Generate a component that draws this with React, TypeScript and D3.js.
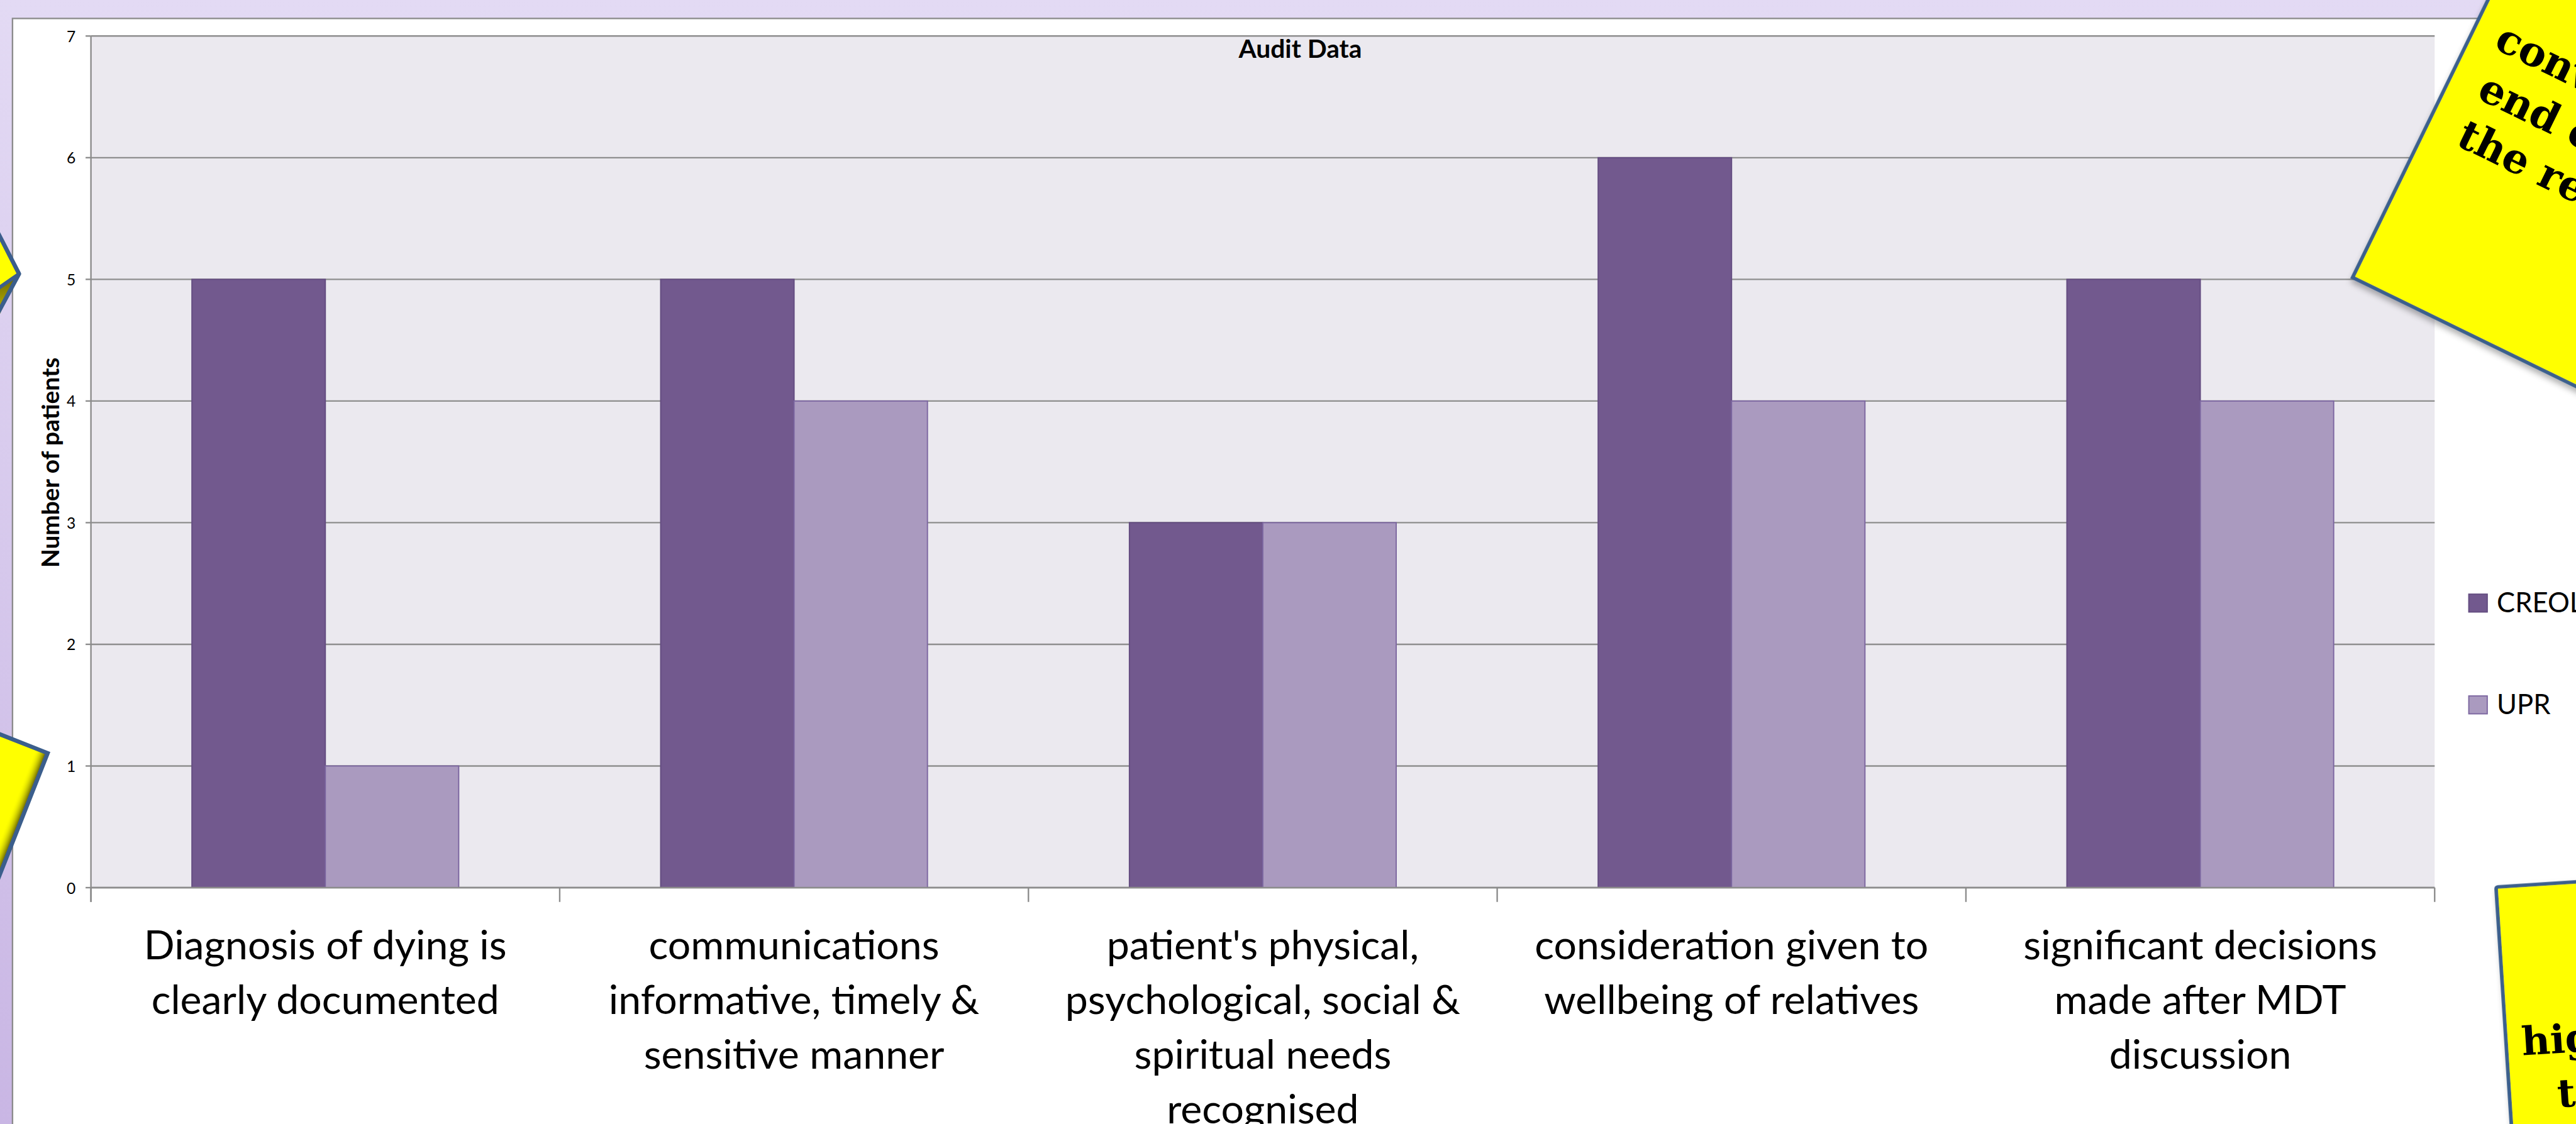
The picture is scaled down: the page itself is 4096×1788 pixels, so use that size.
import React, { useEffect } from "react";
import * as d3 from "d3";

// ---------- data ----------
const categoryLabels: string[][] = [
  ["Diagnosis of dying is", "clearly documented"],
  ["communications", "informative, timely &", "sensitive manner"],
  ["patient's physical,", "psychological, social &", "spiritual needs", "recognised"],
  ["consideration given to", "wellbeing of relatives"],
  ["significant decisions", "made after MDT", "discussion"],
];
const categories = categoryLabels.map((l) => l.join(" "));
const seriesNames = ["CREOL", "UPR"];
const creolValues = [5, 5, 3, 6, 5];
const uprValues = [1, 4, 3, 4, 4];
const yTicks = [0, 1, 2, 3, 4, 5, 6, 7];
const chartTitle = "Audit Data";
const yAxisTitle = "Number of patients";
const noteTopRightLines = ["conv", "end c", "the re"];
const noteBottomRightLines = ["hig", "t"];

const seriesColors = ["#72598E", "#AA9ABF"];
const seriesStrokes = ["#634c80", "#7c66a0"];

const W = 4325;
const H = 1888;
const plot = { left: 152.7, right: 4087.7, top: 60.5, bottom: 1491 };

const FONT = "Lato, 'Open Sans', 'DejaVu Sans', sans-serif";
const NOTE_FONT = "'DejaVu Serif', serif";

export default function App() {
  useEffect(() => {
    document.body.style.margin = "0";
  }, []);

  const x = d3
    .scaleBand<string>()
    .domain(categories)
    .range([plot.left, plot.right])
    .paddingInner(0)
    .paddingOuter(0);
  const xs = d3
    .scaleBand<string>()
    .domain(seriesNames)
    .range([0, x.bandwidth()])
    .paddingInner(0)
    .paddingOuter(0.757);
  const y = d3.scaleLinear().domain([0, 7]).range([plot.bottom, plot.top]);

  const seriesValues = [creolValues, uprValues];
  const boundaries = [...categories.map((c) => x(c) as number), plot.right];

  return (
    <svg
      width={4096}
      height={1788}
      viewBox={`0 0 ${W} ${H}`}
      preserveAspectRatio="none"
      style={{ position: "absolute", left: 0, top: 0, display: "block" }}
    >
      <defs>
        <linearGradient id="bg" x1="0" y1="0" x2="0" y2="1">
          <stop offset="0" stopColor="#e3daf4" />
          <stop offset="1" stopColor="#c9b6e4" />
        </linearGradient>
        <filter id="noteShadow" x="-30%" y="-30%" width="160%" height="160%">
          <feDropShadow dx="3" dy="6" stdDeviation="5" floodColor="#000" floodOpacity="0.3" />
        </filter>
        <linearGradient id="edgeShade" x1="0" y1="0" x2="1" y2="0">
          <stop offset="0" stopColor="#ffff00" stopOpacity="0" />
          <stop offset="1" stopColor="#5e5a00" stopOpacity="0.9" />
        </linearGradient>
        <linearGradient id="foldShade" x1="0" y1="0" x2="0" y2="1">
          <stop offset="0" stopColor="#6a6400" />
          <stop offset="1" stopColor="#c9c200" />
        </linearGradient>
      </defs>

      {/* slide background */}
      <rect x={0} y={0} width={W} height={H} fill="url(#bg)" />

      {/* chart frame */}
      <rect x={21} y={31} width={W + 50} height={H + 50} fill="#ffffff" stroke="#8c8c8c" strokeWidth={2.5} />

      {/* plot area */}
      <rect
        x={plot.left}
        y={plot.top}
        width={plot.right - plot.left}
        height={plot.bottom - plot.top}
        fill="#ebe9ef"
      />

      {/* gridlines */}
      {yTicks.map((t) => (
        <line
          key={"g" + t}
          x1={plot.left}
          x2={plot.right}
          y1={y(t)}
          y2={y(t)}
          stroke="#8e8e8e"
          strokeWidth={2.5}
        />
      ))}

      {/* bars */}
      {categories.map((c, i) => (
        <g key={"c" + i}>
          {seriesNames.map((s, j) => {
            const v = seriesValues[j][i];
            const bx = (x(c) as number) + (xs(s) as number);
            return (
              <rect
                key={s}
                x={bx}
                y={y(v)}
                width={xs.bandwidth()}
                height={y(0) - y(v)}
                fill={seriesColors[j]}
                stroke={seriesStrokes[j]}
                strokeWidth={2}
              />
            );
          })}
        </g>
      ))}

      {/* axes */}
      <line x1={plot.left} x2={plot.left} y1={plot.top} y2={plot.bottom + 24} stroke="#8c8c8c" strokeWidth={2.5} />
      <line x1={plot.left} x2={plot.right} y1={plot.bottom} y2={plot.bottom} stroke="#8c8c8c" strokeWidth={2.5} />
      {yTicks.map((t) => (
        <g key={"t" + t}>
          <line x1={plot.left - 9} x2={plot.left} y1={y(t)} y2={y(t)} stroke="#8c8c8c" strokeWidth={2.5} />
          <text
            x={127}
            y={y(t)}
            textAnchor="end"
            dominantBaseline="central"
            fontFamily={FONT}
            fontSize={26}
            fill="#000"
          >
            {t}
          </text>
        </g>
      ))}
      {boundaries.map((bx, i) => (
        <line key={"b" + i} x1={bx} x2={bx} y1={plot.bottom} y2={plot.bottom + 24} stroke="#8c8c8c" strokeWidth={2.5} />
      ))}

      {/* category labels */}
      {categories.map((c, i) => (
        <text
          key={"l" + i}
          x={(x(c) as number) + x.bandwidth() / 2}
          y={1611}
          textAnchor="middle"
          fontFamily={FONT}
          fontSize={68}
          fill="#000"
        >
          {categoryLabels[i].map((line, k) => (
            <tspan key={k} x={(x(c) as number) + x.bandwidth() / 2} dy={k === 0 ? 0 : 92}>
              {line}
            </tspan>
          ))}
        </text>
      ))}

      {/* title */}
      <text x={2183} y={97} textAnchor="middle" fontFamily={FONT} fontWeight="bold" fontSize={43} fill="#000">
        {chartTitle}
      </text>

      {/* y axis title */}
      <text
        transform="translate(83,777) rotate(-90)"
        textAnchor="middle"
        dominantBaseline="central"
        fontFamily={FONT}
        fontWeight="bold"
        fontSize={41}
        fill="#000"
      >
        {yAxisTitle}
      </text>

      {/* legend */}
      {seriesNames.map((s, j) => {
        const ly = [998, 1169][j];
        return (
          <g key={"lg" + s}>
            <rect x={4145} y={ly} width={31} height={30} fill={seriesColors[j]} stroke={seriesStrokes[j]} strokeWidth={2} />
            <text x={4192} y={ly + 31} fontFamily={FONT} fontSize={46} fill="#000">
              {s}
            </text>
          </g>
        );
      })}

      {/* yellow note: top right */}
      <g transform="translate(3950,466) rotate(26)">
        <rect x={0} y={-700} width={700} height={700} fill="#ffff00" stroke="#3b5e8c" strokeWidth={6} filter="url(#noteShadow)" />
        <g fontFamily={NOTE_FONT} fontWeight="bold" fontSize={69} fill="#000">
          <text x={42} y={-450}>{noteTopRightLines[0]}</text>
          <text x={53} y={-362}>{noteTopRightLines[1]}</text>
          <text x={56} y={-276}>{noteTopRightLines[2]}</text>
        </g>
      </g>

      {/* yellow note: bottom right */}
      <g transform="translate(4190.7,1490) rotate(-3.7)">
        <rect x={0} y={0} width={400} height={500} rx={3} fill="#ffff00" stroke="#3b5e8c" strokeWidth={6} filter="url(#noteShadow)" />
        <g fontFamily={NOTE_FONT} fontWeight="bold" fontSize={66} fill="#000">
          <text x={26} y={285}>{noteBottomRightLines[0]}</text>
          <text x={80} y={376}>{noteBottomRightLines[1]}</text>
        </g>
      </g>

      {/* yellow note: left middle */}
      <g>
        <polygon points="-10,378 32,460 -10,538" fill="#ffff00" />
        <polygon points="30,462 -4,485 -4,536" fill="url(#foldShade)" />
        <line x1={32} y1={460} x2={-4} y2={485} stroke="#3b5e8c" strokeWidth={6} />
        <polygon points="-10,378 32,460 -10,538" fill="none" stroke="#3b5e8c" strokeWidth={7} strokeLinejoin="round" />
      </g>

      {/* yellow note: left lower */}
      <g transform="translate(80,1265) rotate(21.5)">
        <rect x={-520} y={0} width={520} height={700} fill="#ffff00" />
        <rect x={-22} y={3} width={19} height={694} fill="url(#edgeShade)" />
        <rect x={-520} y={0} width={520} height={700} fill="none" stroke="#3b5e8c" strokeWidth={7} />
      </g>
    </svg>
  );
}
